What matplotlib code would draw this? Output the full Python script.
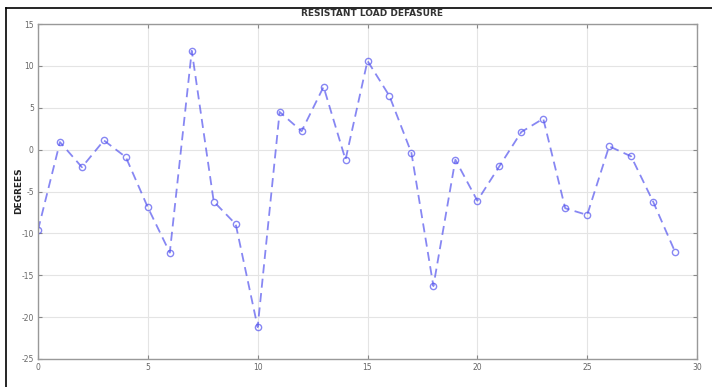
import numpy as np
import matplotlib.pyplot as plt
from matplotlib.lines import Line2D

plt.rcParams['axes.unicode_minus'] = False

# data
x = list(range(30))
degrees = [-9.6, 0.9, -2.1, 1.1, -0.9, -6.9, -12.3, 11.8, -6.2, -8.9,
           -21.2, 4.5, 2.2, 7.5, -1.2, 10.6, 6.4, -0.4, -16.3, -1.2,
           -6.1, -2.0, 2.1, 3.7, -7.0, -7.8, 0.4, -0.8, -6.2, -12.2]
xticks = [0, 5, 10, 15, 20, 25, 30]
yticks = [-25, -20, -15, -10, -5, 0, 5, 10, 15]

fig = plt.figure(figsize=(7.12, 3.87), dpi=100)
W, H = 712, 387
ax = fig.add_axes([38/W, 1-359/H, (697-38)/W, (359-24)/H])

ax.plot(x, degrees, '--o', color='#5555ee', alpha=0.7, lw=1.3,
        dashes=(5, 3), ms=4.5, mfc='none', mew=1.0)

ax.set_xlim(0, 30)
ax.set_ylim(-25, 15)
ax.set_xticks(xticks)
ax.set_yticks(yticks)
ax.grid(True, color='#e4e4e4', lw=0.8)
ax.tick_params(direction='in', top=True, right=True, labelsize=5.5,
               labelcolor='#666666', color='#888888', length=3, pad=3)
for s in ax.spines.values():
    s.set_color('#999999')
    s.set_linewidth(1.0)

fig.text(372/W, 1-13/H, 'RESISTANT LOAD DEFASURE', ha='center', va='center',
         fontsize=6.5, fontweight='bold', color='#333333')
fig.text(19/W, 1-191/H, 'DEGREES', ha='center', va='center', rotation=90,
         fontsize=6.5, fontweight='bold', color='#222222')

# screenshot frame
fig.add_artist(Line2D([6/W, 1], [1-8/H, 1-8/H], color='black', lw=1.2))
fig.add_artist(Line2D([6/W, 6/W], [0, 1-8/H], color='black', lw=1.2))

fig.savefig('out.png', dpi=100)
plt.close()
